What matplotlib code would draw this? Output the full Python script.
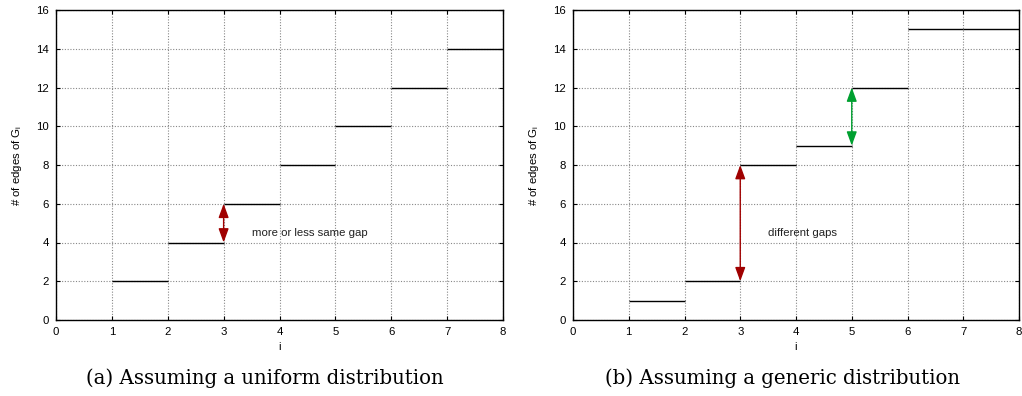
import numpy as np
import matplotlib
matplotlib.use('Agg')
import matplotlib.pyplot as plt

# step values: segment from i to i+1 has height edges[i]
steps_i = [1, 2, 3, 4, 5, 6, 7]
edges_uniform = [2, 4, 6, 8, 10, 12, 14]
edges_generic = [1, 2, 8, 9, 12, 15, 15]

# gap arrows: (x, y_from, y_to, colour)
gaps_uniform = [(3, 4, 6, '#a00000')]
gaps_generic = [(3, 2, 8, '#a00000'), (5, 9, 12, '#00a030')]

captions = ['(a) Assuming a uniform distribution', '(b) Assuming a generic distribution']
notes = ['more or less same gap', 'different gaps']

plt.rcParams['font.family'] = ['Liberation Sans', 'DejaVu Sans']

fig = plt.figure(figsize=(10.22, 3.96), dpi=100)
ax_boxes = [[56 / 1022, 1 - 320 / 396, 447 / 1022, 310 / 396],
            [573 / 1022, 1 - 320 / 396, 446 / 1022, 310 / 396]]
caption_x = [265 / 1022, 782 / 1022]

datasets = [(edges_uniform, gaps_uniform), (edges_generic, gaps_generic)]

for k, (edges, gaps) in enumerate(datasets):
    ax = fig.add_axes(ax_boxes[k])
    ax.hlines(edges, steps_i, np.array(steps_i) + 1, color='black', lw=1.0, zorder=3)
    for x, y0, y1, c in gaps:
        ax.annotate('', xy=(x, y1), xytext=(x, y0),
                    arrowprops=dict(arrowstyle='<|-|>,head_length=0.6,head_width=0.22',
                                    color=c, lw=1.0,
                                    mutation_scale=14, shrinkA=0, shrinkB=0),
                    zorder=4)
    ax.text(3.5, 4.5, notes[k], fontsize=8.2, ha='left', va='center', color='#222222')
    ax.set_xlim(0, 8)
    ax.set_ylim(0, 16)
    ax.set_xticks(range(0, 9))
    ax.set_yticks(range(0, 17, 2))
    ax.grid(True, color='#888888', ls=(0, (1, 1.5)), lw=0.8)
    ax.tick_params(direction='in', top=True, right=True, labelsize=8.2, length=3, pad=5)
    for s in ax.spines.values():
        s.set_linewidth(1.0)
    ax.set_xlabel('i', fontsize=8.2, labelpad=4)
    ax.set_ylabel('# of edges of G$_\\mathregular{i}$', fontsize=8.2, labelpad=9)
    fig.text(caption_x[k], 1 - 378 / 396, captions[k], ha='center', va='center',
             fontsize=14.2, family=['DejaVu Serif'])

fig.savefig('out.png', dpi=100)
